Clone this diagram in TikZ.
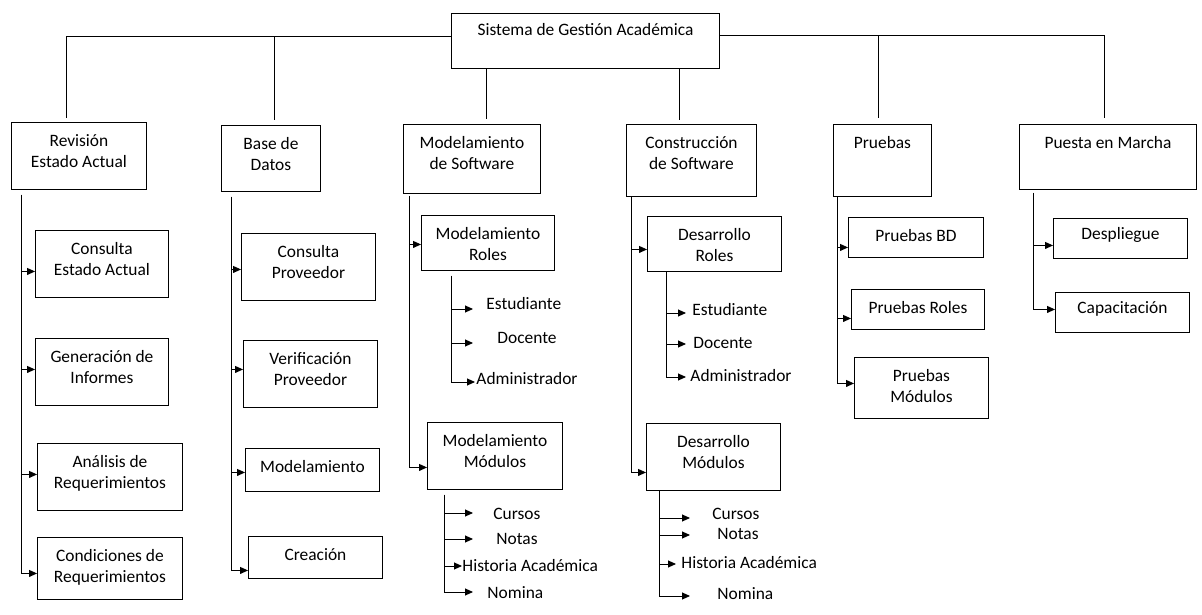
\documentclass[tikz,border=0pt]{standalone}
\usepackage{fontspec}
\setmainfont{Carlito}
\usepackage{tikz}
\usetikzlibrary{calc}
\usetikzlibrary{arrows.meta}
\newcommand{\wtext}[4][8.5]{\parbox[t][#3pt][t]{#2pt}{\centering\vspace*{#1pt}\strut #4}}
\tikzstyle{wbox} = [draw=black, inner sep=0pt, anchor=north west]
\tikzstyle{item} = [inner sep=0pt, anchor=west, text height=12pt, text depth=0pt]
\tikzstyle{arr} = [-{Triangle[length=8pt,width=7pt]}]

\begin{document}
\begin{tikzpicture}[x=1pt, y=-1pt, line width=0.9pt, font=\fontsize{17.4}{21.7}\selectfont]
    \useasboundingbox (0,0) rectangle (1202,615);

    % raiz y fases
    \node [wbox] (sga) at (451,13) {\wtext[6.5]{268}{55}{Sistema de Gestión Académica}};
    \node [wbox] (rev) at (11,122) {\wtext{135}{67}{Revisión\\Estado Actual}};
    \node [wbox] (bd) at (221,125) {\wtext{99}{66}{Base de\\Datos}};
    \node [wbox] (mds) at (403,124) {\wtext{137}{69}{Modelamiento\\de Software}};
    \node [wbox] (cds) at (626,124) {\wtext{130}{72}{Construcción\\de Software}};
    \node [wbox] (prb) at (833,124) {\wtext{98}{72}{Pruebas}};
    \node [wbox] (pm) at (1019,124) {\wtext{177}{65}{Puesta en Marcha}};

    \coordinate (revt) at ([xshift=55pt,yshift=4pt]rev.north west);
    \coordinate (bdt) at ([xshift=53pt,yshift=5pt]bd.north west);
    \coordinate (mdst) at ([xshift=83pt,yshift=5pt]mds.north west);
    \coordinate (cdst) at ([xshift=53pt,yshift=4pt]cds.north west);
    \coordinate (prbt) at ([xshift=45pt,yshift=6pt]prb.north west);
    \coordinate (pmt) at ([xshift=85pt,yshift=6pt]pm.north west);

    \draw ([yshift=-23pt]sga.north west) -| (revt);
    \draw ([yshift=-23pt]sga.north west) -| (bdt);
    \draw (mdst |- sga.south) -- (mdst);
    \draw (cdst |- sga.south) -- (cdst);
    \draw ([yshift=-22pt]sga.north east) -| (prbt);
    \draw ([yshift=-22pt]sga.north east) -| (pmt);

    % Revision Estado Actual
    \node [wbox] (cea) at (35,230) {\wtext{133}{67}{Consulta\\Estado Actual}};
    \node [wbox] (gi) at (35,338) {\wtext{133}{67}{Generación de\\Informes}};
    \node [wbox] (ar) at (37,443) {\wtext{145}{67}{Análisis de\\Requerimientos}};
    \node [wbox] (cr) at (37,537) {\wtext{145}{62}{Condiciones de\\Requerimientos}};
    \coordinate (revs) at ([xshift=10pt,yshift=-5pt]rev.south west);
    \draw [arr] (revs) |- ([yshift=-7.5pt]cea.west);
    \draw [arr] (revs) |- ([yshift=2.5pt]gi.west);
    \draw [arr] (revs) |- ([yshift=2.5pt]ar.west);
    \draw [arr] (revs) |- ([yshift=-5pt]cr.west);

    % Base de Datos
    \node [wbox] (cp) at (241,233) {\wtext{134}{67}{Consulta\\Proveedor}};
    \node [wbox] (vp) at (243,340) {\wtext{134}{67}{Verificación\\Proveedor}};
    \node [wbox] (mbd) at (245,448) {\wtext{134}{43}{Modelamiento}};
    \node [wbox] (cre) at (248,536) {\wtext{134}{42}{Creación}};
    \coordinate (bds) at ([xshift=10pt,yshift=-5pt]bd.south west);
    \draw [arr] (bds) |- ([yshift=-2.5pt]cp.west);
    \draw [arr] (bds) |- ([yshift=4.5pt]vp.west);
    \draw [arr] (bds) |- ([yshift=-2.5pt]mbd.west);
    \draw [arr] (bds) |- ([yshift=-13pt]cre.west);

    % Modelamiento de Software
    \node [wbox] (mr) at (421,215) {\wtext{133}{55}{Modelamiento\\Roles}};
    \node [wbox] (mm) at (427,422) {\wtext{135}{67}{Modelamiento\\Módulos}};
    \coordinate (mdss) at ([xshift=6pt,yshift=-2pt]mds.south west);
    \draw [arr] (mdss) |- ([yshift=-1.5pt]mr.west);
    \draw [arr] (mdss) |- ([yshift=-11.5pt]mm.west);

    \node [item] (mr1) at (486,303) {Estudiante};
    \node [item] (mr2) at (497,337) {Docente};
    \node [item] (mr3) at (476,378) {Administrador};
    \coordinate (mrs) at ([xshift=30pt,yshift=-5pt]mr.south west);
    \draw [arr] (mrs) |- ([xshift=-13pt,yshift=-6pt]mr1.west);
    \draw [arr] (mrs) |- ([xshift=-24pt,yshift=-6pt]mr2.west);
    \draw [arr] (mrs) |- ([xshift=-1pt,yshift=-4pt]mr3.west);

    \node [item] (mm1) at (493,513) {Cursos};
    \node [item] (mm2) at (496,538) {Notas};
    \node [item] (mm3) at (462,565) {Historia Académica};
    \node [item] (mm4) at (487,592) {Nomina};
    \coordinate (mms) at ([xshift=17pt,yshift=-5pt]mm.south west);
    \draw [arr] (mms) |- ([xshift=-20pt]mm1.west);
    \draw [arr] (mms) |- ([xshift=-23pt,yshift=-1pt]mm2.west);
    \draw [arr] (mms) |- ([yshift=-1pt]mm3.west);
    \draw [arr] (mms) |- ([xshift=-14pt]mm4.west);

    % Construccion de Software
    \node [wbox] (dr) at (647,216) {\wtext{134}{55}{Desarrollo\\Roles}};
    \node [wbox] (dm) at (646,423) {\wtext{134}{67}{Desarrollo\\Módulos}};
    \coordinate (cdss) at ([xshift=5pt]cds.south west);
    \draw [arr] (cdss) |- ([yshift=-5.5pt]dr.west);
    \draw [arr] (cdss) |- ([yshift=-15.5pt]dm.west);

    \node [item] (dr1) at (692,309) {Estudiante};
    \node [item] (dr2) at (693,342) {Docente};
    \node [item] (dr3) at (690,375) {Administrador};
    \coordinate (drs) at ([xshift=19pt]dr.south west);
    \draw [arr] (drs) |- ([xshift=-6pt,yshift=-4pt]dr1.west);
    \draw [arr] (drs) |- ([xshift=-7pt,yshift=-2pt]dr2.west);
    \draw [arr] (drs) |- ([xshift=-4pt,yshift=-2pt]dr3.west);

    \node [item] (dm1) at (712,513) {Cursos};
    \node [item] (dm2) at (717,533) {Notas};
    \node [item] (dm3) at (681,562) {Historia Académica};
    \node [item] (dm4) at (717,593) {Nomina};
    \coordinate (dms) at ([xshift=13pt]dm.south west);
    \draw [arr] (dms) |- ([xshift=-22pt,yshift=-5pt]dm1.west);
    \draw [arr] (dms) |- ([xshift=-27pt,yshift=-2pt]dm2.west);
    \draw [arr] (dms) |- ([xshift=-5pt,yshift=-2pt]dm3.west);
    \draw [arr] (dms) |- ([xshift=-27pt,yshift=-3pt]dm4.west);

    % Pruebas
    \node [wbox] (pbd) at (848,217) {\wtext{135}{40}{Pruebas BD}};
    \node [wbox] (pro) at (851,289) {\wtext{133}{40}{Pruebas Roles}};
    \node [wbox] (pmo) at (854,357) {\wtext{134}{61}{Pruebas\\Módulos}};
    \coordinate (prbs) at ([xshift=4pt]prb.south west);
    \draw [arr] (prbs) |- ([yshift=-10pt]pbd.west);
    \draw [arr] (prbs) |- ([yshift=-9pt]pro.west);
    \draw [arr] (prbs) |- ([yshift=4.5pt]pmo.west);

    % Puesta en Marcha
    \node [wbox] (des) at (1053,218) {\wtext[6]{134}{40}{Despliegue}};
    \node [wbox] (cap) at (1055,292) {\wtext[6]{134}{40}{Capacitación}};
    \coordinate (pms) at ([xshift=14pt,yshift=-3pt]pm.south west);
    \draw [arr] (pms) |- ([yshift=-7pt]des.west);
    \draw [arr] (pms) |- ([yshift=3pt]cap.west);
\end{tikzpicture}
\end{document}
